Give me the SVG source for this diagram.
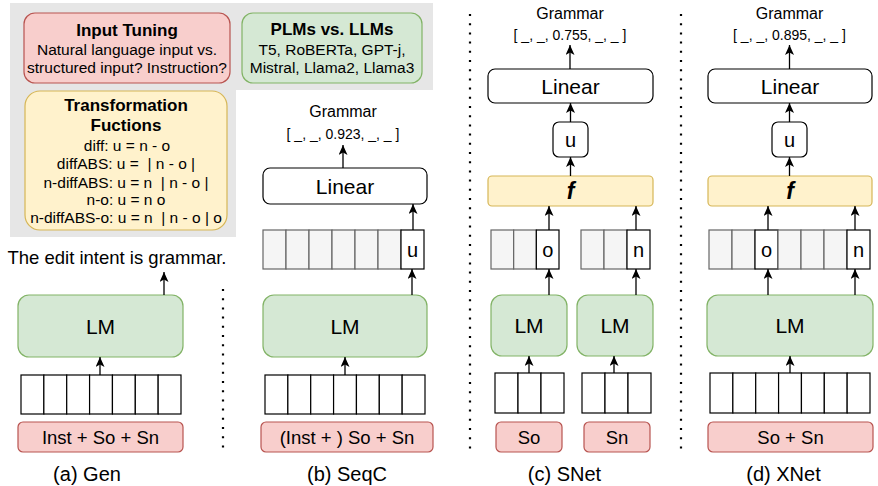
<svg xmlns="http://www.w3.org/2000/svg" width="878" height="486" viewBox="0 0 878 486">
<defs>
<marker id="arr" markerUnits="userSpaceOnUse" markerWidth="10" markerHeight="9" viewBox="0 0 10 9" refX="10" refY="4.5" orient="auto">
<path d="M0,0 L10,4.5 L0,9 L2.5,4.5 Z" fill="#000"/>
</marker>
</defs>
<style>
text{font-family:"Liberation Sans",Arial,sans-serif;fill:#000;text-anchor:middle}
.b{font-weight:bold;font-size:17px}
.s{font-size:15.5px}
.lm{fill:#d5e8d4;stroke:#82b366;stroke-width:1.2}
.in{fill:#f8cecc;stroke:#b85450;stroke-width:1.2}
.fx{fill:#fff2cc;stroke:#d6b656;stroke-width:1.2}
.w{fill:#fff;stroke:#000;stroke-width:1.2}
.g{fill:#f5f5f5;stroke:#666;stroke-width:1.2}
.big{font-size:21px}
.mid{font-size:18.5px}
.cap{font-size:20px}
.gr{font-size:16px}
.vec{font-size:14px}
.tok{font-size:20px}
.conn line{stroke:#000;stroke-width:1.3;marker-end:url(#arr)}
.dot{stroke:#000;stroke-width:2.2;stroke-dasharray:2 7.2;fill:none}
</style>

<g id="background">
<path d="M10,3 H433 V90 H236 V237 H10 Z" fill="#e6e6e6"/>
</g>

<g id="input-tuning">
<rect x="24" y="13" width="206" height="70" rx="11" class="in"/>
<text x="127" y="36" class="b">Input Tuning</text>
<text x="127" y="55" class="s">Natural language input vs.</text>
<text x="127" y="73" class="s">structured input? Instruction?</text>
</g>

<g id="plms-llms">
<rect x="242" y="13" width="180" height="70" rx="11" class="lm"/>
<text x="332" y="35" class="b">PLMs vs. LLMs</text>
<text x="332" y="55" class="s">T5, RoBERTa, GPT-j,</text>
<text x="332" y="73" class="s">Mistral, Llama2, Llama3</text>
</g>

<g id="transformation-functions">
<rect x="25" y="91" width="202" height="139" rx="15" class="fx"/>
<text x="126" y="111" class="b">Transformation</text>
<text x="126" y="131" class="b">Fuctions</text>
<text x="127" y="151" class="s" xml:space="preserve">diff: u = n - o</text>
<text x="126" y="169" class="s" xml:space="preserve">diffABS: u =  | n - o |</text>
<text x="126" y="188" class="s" xml:space="preserve">n-diffABS: u = n  | n - o |</text>
<text x="126" y="205" class="s" xml:space="preserve">n-o: u = n o</text>
<text x="126" y="223" class="s" xml:space="preserve">n-diffABS-o: u = n  | n - o | o</text>
</g>

<g id="separators">
<line x1="223" y1="289" x2="223" y2="452" class="dot"/>
<line x1="470" y1="14" x2="470" y2="452" class="dot"/>
<line x1="681" y1="14" x2="681" y2="452" class="dot"/>
</g>

<!-- (a) Gen -->
<g id="gen-output">
<text x="117" y="264" class="mid">The edit intent is grammar.</text>
</g>
<g id="gen-lm">
<rect x="18" y="295" width="165" height="62" rx="11" class="lm"/>
<text x="100.5" y="333.5" class="big">LM</text>
</g>
<g id="gen-tokens">
<rect x="21" y="375" width="22.86" height="39" class="w"/>
<rect x="43.86" y="375" width="22.86" height="39" class="w"/>
<rect x="66.72" y="375" width="22.86" height="39" class="w"/>
<rect x="89.58" y="375" width="22.86" height="39" class="w"/>
<rect x="112.44" y="375" width="22.86" height="39" class="w"/>
<rect x="135.3" y="375" width="22.86" height="39" class="w"/>
<rect x="158.16" y="375" width="22.84" height="39" class="w"/>
</g>
<g id="gen-input">
<rect x="18" y="422" width="165" height="30" rx="5" class="in"/>
<text x="100.5" y="443.5" class="mid">Inst + So + Sn</text>
</g>
<g id="gen-caption"><text x="87" y="481" class="cap">(a) Gen</text></g>

<!-- (b) SeqC -->
<g id="seqc-output">
<text x="343" y="117" class="gr">Grammar</text>
<text x="343" y="139" class="vec">[ _, _, 0.923, _, _ ]</text>
</g>
<g id="seqc-linear">
<rect x="263" y="168" width="164" height="36" rx="7" class="w"/>
<text x="345" y="193.5" class="big">Linear</text>
</g>
<g id="seqc-hidden">
<rect x="263" y="230" width="23" height="39" class="g"/>
<rect x="286" y="230" width="23" height="39" class="g"/>
<rect x="309" y="230" width="23" height="39" class="g"/>
<rect x="332" y="230" width="23" height="39" class="g"/>
<rect x="355" y="230" width="23" height="39" class="g"/>
<rect x="378" y="230" width="23" height="39" class="g"/>
<rect x="401" y="230" width="23" height="39" class="w"/>
<text x="412.5" y="257" class="tok">u</text>
</g>
<g id="seqc-lm">
<rect x="263" y="295" width="164" height="62" rx="11" class="lm"/>
<text x="345" y="333.5" class="big">LM</text>
</g>
<g id="seqc-tokens">
<rect x="265" y="375" width="22.86" height="39" class="w"/>
<rect x="287.86" y="375" width="22.86" height="39" class="w"/>
<rect x="310.72" y="375" width="22.86" height="39" class="w"/>
<rect x="333.58" y="375" width="22.86" height="39" class="w"/>
<rect x="356.44" y="375" width="22.86" height="39" class="w"/>
<rect x="379.3" y="375" width="22.86" height="39" class="w"/>
<rect x="402.16" y="375" width="22.84" height="39" class="w"/>
</g>
<g id="seqc-input">
<rect x="261" y="422" width="172" height="30" rx="5" class="in"/>
<text x="347" y="443.5" class="mid">(Inst + ) So + Sn</text>
</g>
<g id="seqc-caption"><text x="347" y="481" class="cap">(b) SeqC</text></g>

<!-- (c) SNet -->
<g id="snet-output">
<text x="570" y="19" class="gr">Grammar</text>
<text x="570" y="40" class="vec">[ _, _, 0.755, _, _ ]</text>
</g>
<g id="snet-linear">
<rect x="488" y="69" width="165" height="34" rx="7" class="w"/>
<text x="570.5" y="93.5" class="big">Linear</text>
</g>
<g id="snet-u">
<rect x="553" y="122" width="35" height="35" rx="6" class="w"/>
<text x="570.5" y="146.5" class="tok">u</text>
</g>
<g id="snet-f">
<rect x="488" y="176" width="165" height="30" rx="4" class="fx"/>
<text x="570.5" y="198.5" style="font-size:23px;font-weight:bold;font-style:italic">f</text>
</g>
<g id="snet-hidden-o">
<rect x="491" y="230" width="22.67" height="39" class="g"/>
<rect x="513.67" y="230" width="22.67" height="39" class="g"/>
<rect x="536.33" y="230" width="22.67" height="39" class="w"/>
<text x="547.7" y="257" class="tok">o</text>
</g>
<g id="snet-hidden-n">
<rect x="581" y="230" width="23" height="39" class="g"/>
<rect x="604" y="230" width="23" height="39" class="g"/>
<rect x="627" y="230" width="23" height="39" class="w"/>
<text x="638.5" y="257" class="tok">n</text>
</g>
<g id="snet-lm-o">
<rect x="491" y="295" width="76" height="61" rx="11" class="lm"/>
<text x="529" y="333" class="big">LM</text>
</g>
<g id="snet-lm-n">
<rect x="577" y="295" width="76" height="61" rx="11" class="lm"/>
<text x="615" y="333" class="big">LM</text>
</g>
<g id="snet-tokens-o">
<rect x="495" y="373" width="23" height="40" class="w"/>
<rect x="518" y="373" width="23" height="40" class="w"/>
<rect x="541" y="373" width="23" height="40" class="w"/>
</g>
<g id="snet-tokens-n">
<rect x="582" y="373" width="23" height="40" class="w"/>
<rect x="605" y="373" width="23" height="40" class="w"/>
<rect x="628" y="373" width="23" height="40" class="w"/>
</g>
<g id="snet-input-so">
<rect x="496" y="422" width="66" height="30" rx="5" class="in"/>
<text x="529" y="443.5" class="mid">So</text>
</g>
<g id="snet-input-sn">
<rect x="584" y="422" width="66" height="30" rx="5" class="in"/>
<text x="617" y="443.5" class="mid">Sn</text>
</g>
<g id="snet-caption"><text x="564.5" y="481" class="cap">(c) SNet</text></g>

<!-- (d) XNet -->
<g id="xnet-output">
<text x="789.5" y="19" class="gr">Grammar</text>
<text x="789.5" y="40" class="vec">[ _, _, 0.895, _, _ ]</text>
</g>
<g id="xnet-linear">
<rect x="708" y="69" width="164" height="34" rx="7" class="w"/>
<text x="790" y="93.5" class="big">Linear</text>
</g>
<g id="xnet-u">
<rect x="772" y="122" width="35" height="35" rx="6" class="w"/>
<text x="789.5" y="146.5" class="tok">u</text>
</g>
<g id="xnet-f">
<rect x="708" y="176" width="164" height="30" rx="4" class="fx"/>
<text x="790" y="198.5" style="font-size:23px;font-weight:bold;font-style:italic">f</text>
</g>
<g id="xnet-hidden">
<rect x="709" y="230" width="23" height="39" class="g"/>
<rect x="732" y="230" width="23" height="39" class="g"/>
<rect x="755" y="230" width="23" height="39" class="w"/>
<rect x="778" y="230" width="23" height="39" class="g"/>
<rect x="801" y="230" width="23" height="39" class="g"/>
<rect x="824" y="230" width="23" height="39" class="g"/>
<rect x="847" y="230" width="23" height="39" class="w"/>
<text x="766.5" y="257" class="tok">o</text>
<text x="858.5" y="257" class="tok">n</text>
</g>
<g id="xnet-lm">
<rect x="707" y="295" width="166" height="61" rx="11" class="lm"/>
<text x="790" y="333" class="big">LM</text>
</g>
<g id="xnet-tokens">
<rect x="710" y="373" width="22.86" height="40" class="w"/>
<rect x="732.86" y="373" width="22.86" height="40" class="w"/>
<rect x="755.72" y="373" width="22.86" height="40" class="w"/>
<rect x="778.58" y="373" width="22.86" height="40" class="w"/>
<rect x="801.44" y="373" width="22.86" height="40" class="w"/>
<rect x="824.3" y="373" width="22.86" height="40" class="w"/>
<rect x="847.16" y="373" width="22.84" height="40" class="w"/>
</g>
<g id="xnet-input">
<rect x="708" y="422" width="165" height="30" rx="5" class="in"/>
<text x="790.5" y="443.5" class="mid">So + Sn</text>
</g>
<g id="xnet-caption"><text x="783.5" y="481" class="cap">(d) XNet</text></g>

<g id="connectors" class="conn">
<!-- Gen -->
<line x1="100" y1="375" x2="100" y2="357"/>
<line x1="164" y1="295" x2="164" y2="272"/>
<!-- SeqC -->
<line x1="345" y1="375" x2="345" y2="357"/>
<line x1="412" y1="295" x2="412" y2="269"/>
<line x1="413" y1="230" x2="413" y2="204"/>
<line x1="343" y1="168" x2="343" y2="145"/>
<!-- SNet -->
<line x1="529" y1="373" x2="529" y2="356"/>
<line x1="614" y1="373" x2="614" y2="356"/>
<line x1="549" y1="295" x2="549" y2="269"/>
<line x1="636" y1="295" x2="636" y2="269"/>
<line x1="549" y1="230" x2="549" y2="206"/>
<line x1="636" y1="230" x2="636" y2="206"/>
<line x1="570.5" y1="176" x2="570.5" y2="157"/>
<line x1="570.5" y1="122" x2="570.5" y2="103"/>
<line x1="570" y1="69" x2="570" y2="45"/>
<!-- XNet -->
<line x1="790" y1="373" x2="790" y2="356"/>
<line x1="768" y1="295" x2="768" y2="269"/>
<line x1="855" y1="295" x2="855" y2="269"/>
<line x1="768" y1="230" x2="768" y2="206"/>
<line x1="855" y1="230" x2="855" y2="206"/>
<line x1="789.5" y1="176" x2="789.5" y2="157"/>
<line x1="789.5" y1="122" x2="789.5" y2="103"/>
<line x1="789.5" y1="69" x2="789.5" y2="45"/>
</g>
</svg>
